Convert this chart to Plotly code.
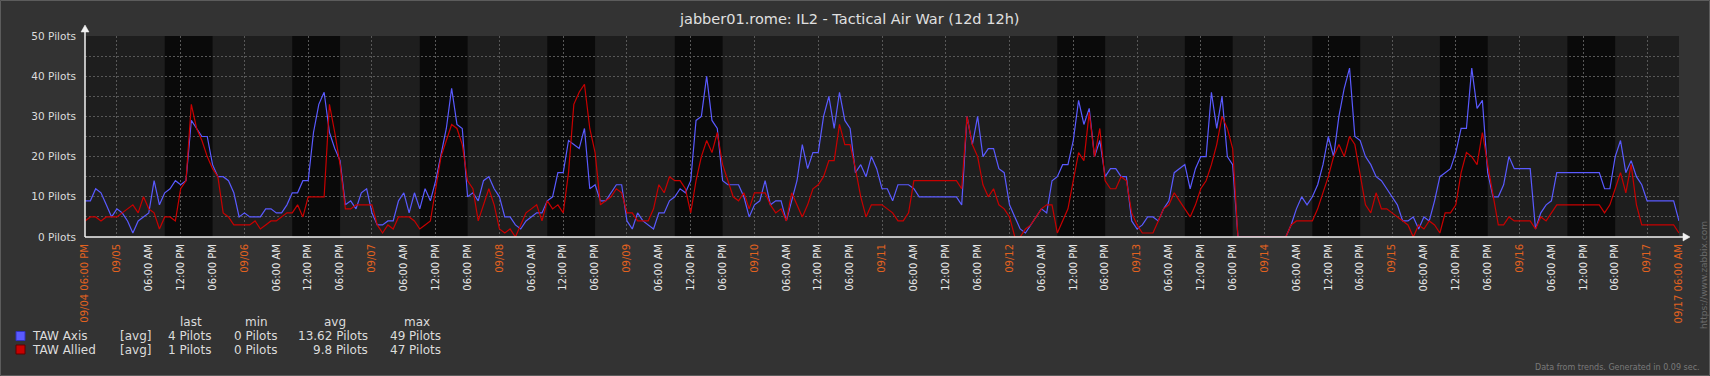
import pandas as pd
import plotly.graph_objects as go

# ---------------- data (hourly trend averages, from 09/04 06:00 PM) ----------------
START = "2016-09-04 18:00"

axis_pilots = [
    9, 9, 12, 11, 8, 5, 7, 6, 4, 1, 4, 5, 6, 14, 8, 11, 12, 14, 13, 14,
    29, 27, 25, 25, 18, 15, 15, 14, 11, 5, 6, 5, 5, 5, 7, 7, 6, 6, 8, 11,
    11, 14, 14, 26, 33, 36, 26, 22, 19, 8, 9, 7, 11, 12, 6, 3, 3, 4, 4, 9,
    11,
    6, 11, 7, 12, 9, 14, 21, 27, 37, 28,
    27, 10, 11, 9, 14, 15, 12, 10, 5, 5,
    3, 2, 4, 5, 6, 6, 9, 10, 16, 16,
    24, 23, 22, 27, 12, 13, 9, 9, 11, 13,
    13, 4, 2, 6, 4, 3, 2, 6, 6, 9,
    10, 12, 11, 14, 29, 30, 40, 29, 27, 14,
    13, 13, 13, 10, 5, 8, 9, 14, 8, 9,
    9, 4, 9, 14, 23, 17, 21, 21, 30, 35,
    27, 36, 29, 27, 16, 18, 15, 20, 17, 12,
    12, 9, 13, 13, 13, 12, 10, 10, 10, 10,
    10, 10, 10, 10, 8, 30, 23, 30, 20, 22,
    22, 17, 16, 8, 5, 2, 1, 3, 5, 7,
    6, 14, 15, 18, 18, 24, 34, 28, 32, 20,
    24, 15, 17, 17, 15, 15, 4, 2, 3, 5,
    5, 4, 7, 9, 16, 17, 18, 12, 17, 20,
    20, 36, 27, 35, 20, 18, 0, 0, 0, 0,
    0, 0, 0, 0, 0, 0, 3, 7, 10, 8,
    10, 13, 18, 25, 20, 30, 37, 42, 25, 24,
    20, 18, 15, 14, 12, 10, 8, 4, 4, 5,
    2, 5, 4, 9, 15, 16, 17, 21, 27, 27,
    42, 32, 34, 16, 10, 10, 13, 20, 17, 17,
    17, 17, 2, 6, 8, 9, 16, 16, 16, 16,
    16, 16, 16, 16, 16, 12, 12, 20, 24, 16,
    19, 15, 13, 9, 9, 9, 9, 9, 9, 4,
]

allied_pilots = [
    4, 5, 5, 4, 5, 5, 5, 6, 7, 8, 6, 10, 7, 6, 2, 5, 5, 4, 12, 14,
    33, 27, 24, 20, 17, 15, 6, 5, 3, 3, 3, 3, 4, 2, 3, 4, 4, 5, 6, 6,
    8, 5, 10, 10, 10, 10, 33, 26, 18, 7, 7, 8, 8, 8, 8, 3, 1, 3, 2, 5,
    5,
    5, 4, 2, 3, 4, 12, 20, 24, 28, 27,
    23, 14, 12, 4, 8, 12, 8, 2, 1, 2,
    0, 3, 6, 7, 8, 4, 9, 7, 8, 6,
    16, 33, 36, 38, 27, 21, 8, 9, 10, 12,
    11, 6, 6, 4, 4, 4, 7, 13, 11, 15,
    14, 14, 12, 6, 14, 20, 24, 21, 26, 18,
    14, 10, 9, 11, 7, 11, 11, 11, 8, 6,
    7, 4, 11, 8, 5, 8, 12, 13, 15, 19,
    19, 28, 23, 23, 17, 10, 5, 8, 8, 8,
    7, 6, 4, 4, 6, 14, 14, 14, 14, 14,
    14, 14, 14, 14, 12, 30, 23, 20, 13, 10,
    12, 8, 7, 5, 0, 0, 2, 3, 5, 7,
    8, 8, 1, 4, 7, 14, 21, 19, 31, 20,
    27, 14, 12, 12, 15, 14, 6, 3, 1, 1,
    1, 4, 7, 8, 11, 9, 7, 5, 8, 12,
    14, 18, 23, 30, 27, 22, 0, 0, 0, 0,
    0, 0, 0, 0, 0, 0, 3, 4, 4, 4,
    4, 7, 11, 15, 20, 23, 20, 25, 23, 15,
    8, 6, 11, 7, 7, 6, 5, 4, 3, 0,
    3, 2, 4, 3, 1, 6, 6, 8, 16, 21,
    20, 18, 26, 18, 10, 3, 3, 5, 4, 4,
    4, 4, 2, 5, 4, 6, 8, 8, 8, 8,
    8, 8, 8, 8, 8, 6, 8, 12, 16, 11,
    18, 8, 3, 3, 3, 3, 3, 3, 3, 1,
]

# working days (shaded 09:00 - 18:00)
work_days = ["2016-09-05", "2016-09-06", "2016-09-07", "2016-09-08", "2016-09-09",
             "2016-09-12", "2016-09-13", "2016-09-14", "2016-09-15", "2016-09-16"]

# tick labels
date_tick_days = ["09/05", "09/06", "09/07", "09/08", "09/09", "09/10", "09/11",
                  "09/12", "09/13", "09/14", "09/15", "09/16", "09/17"]
first_label = "09/04 06:00 PM"
last_label = "09/17 06:00 AM"
time_labels = ["06:00 AM", "12:00 PM", "06:00 PM"]
y_ticks = [0, 10, 20, 30, 40, 50]
y_tick_text = ["0 Pilots", "10 Pilots", "20 Pilots", "30 Pilots", "40 Pilots", "50 Pilots"]

# legend table
series_names = ["TAW Axis", "TAW Allied"]
series_funcs = ["[avg]", "[avg]"]
series_colors = ["#5a5aff", "#c80000"]
stat_headers = ["last", "min", "avg", "max"]
stat_values = [
    ["4 Pilots", "0 Pilots", "13.62 Pilots", "49 Pilots"],
    ["1 Pilots", "0 Pilots", "9.8 Pilots", "47 Pilots"],
]

TITLE = "jabber01.rome: IL2 - Tactical Air War (12d 12h)"
FOOTER = "Data from trends. Generated in 0.09 sec."
WATERMARK = "https://www.zabbix.com"

# ---------------- geometry helpers ----------------
FW, FH = 1710, 376
L, R, T, B = 85, 1679, 36, 237
PW, PH = R - L, B - T


def px(x):
    return (x - L) / PW


def py(y):
    return (B - y) / PH


FONT = "DejaVu Sans"
TXT = "#dcdcdc"
ORANGE = "#e2621f"
GRID = "#585858"

times = pd.date_range(START, periods=len(axis_pilots), freq="h")
t0, t1 = times[0], times[-1]

fig = go.Figure()
fig.add_trace(go.Scatter(x=times, y=axis_pilots, mode="lines", name=series_names[0],
                         line=dict(color=series_colors[0], width=1.2), showlegend=False))
fig.add_trace(go.Scatter(x=times, y=allied_pilots, mode="lines", name=series_names[1],
                         line=dict(color=series_colors[1], width=1.2), showlegend=False))

# tick positions
day0 = pd.Timestamp("2016-09-05")
date_vals = [t0] + [day0 + pd.Timedelta(days=i) for i in range(len(date_tick_days))] + [t1]
date_text = [first_label] + date_tick_days + [last_label]
time_vals, time_text = [], []
for i in range(12):
    for j, lab in enumerate(time_labels):
        t = day0 + pd.Timedelta(days=i, hours=6 * (j + 1))
        if t0 < t < t1:
            time_vals.append(t)
            time_text.append(lab)
grid_vals = [t for t in pd.date_range(day0, t1, freq="12h")]

xr = [t0 - pd.Timedelta(seconds=30), t1 + pd.Timedelta(seconds=30)]
tickfont = dict(family=FONT, size=10)

fig.update_layout(
    width=FW, height=FH,
    margin=dict(l=L, r=FW - R, t=T, b=FH - B, pad=0),
    paper_bgcolor="#333333", plot_bgcolor="#1e1e1e",
    font=dict(family=FONT, color=TXT),
    xaxis=dict(range=xr, tickmode="array", tickvals=time_vals, ticktext=time_text,
               tickangle=-90, tickfont=dict(color="#e8e8e8", **tickfont),
               showgrid=False, zeroline=False, showline=False, ticks="", ticklabelstandoff=4,
               automargin=False),
    xaxis2=dict(range=xr, overlaying="x", side="bottom", tickmode="array",
                tickvals=date_vals, ticktext=date_text, tickangle=-90,
                tickfont=dict(color=ORANGE, **tickfont), showgrid=False,
                zeroline=False, showline=False, ticks="", ticklabelstandoff=4,
                automargin=False),
    xaxis3=dict(range=xr, overlaying="x", side="bottom", tickmode="array",
                tickvals=grid_vals, showticklabels=False, showgrid=True,
                gridcolor=GRID, griddash="2px,2px", gridwidth=1, zeroline=False,
                showline=False, ticks=""),
    yaxis=dict(range=[0, 50], tickmode="array", tickvals=y_ticks, ticktext=y_tick_text,
               tickfont=dict(family=FONT, size=10.5, color=TXT), showgrid=True,
               gridcolor=GRID, griddash="2px,2px", zeroline=False, showline=False,
               ticks="", ticklabelstandoff=8, automargin=False,
               minor=dict(dtick=5, tick0=0, showgrid=True, gridcolor=GRID,
                          griddash="2px,2px", ticks="")),
)

# invisible traces to activate overlay axes
fig.add_trace(go.Scatter(x=[t0], y=[None], xaxis="x2", showlegend=False, hoverinfo="skip"))
fig.add_trace(go.Scatter(x=[t0], y=[None], xaxis="x3", showlegend=False, hoverinfo="skip"))

shapes = []
# working-hours shading
for d in work_days:
    ds = pd.Timestamp(d)
    shapes.append(dict(type="rect", xref="x", yref="paper",
                       x0=ds + pd.Timedelta(hours=9), x1=ds + pd.Timedelta(hours=18),
                       y0=0, y1=1, fillcolor="#0a0a0a", line=dict(width=0), layer="below"))
# axes with arrows
AX = "#f2f2f2"
shapes.append(dict(type="line", xref="paper", yref="paper", x0=0, x1=0, y0=0, y1=py(30),
                   line=dict(color=AX, width=1.5)))
shapes.append(dict(type="path", xref="paper", yref="paper",
                   path=f"M {px(81)} {py(32)} L {px(89)} {py(32)} L {px(85)} {py(25)} Z",
                   fillcolor=AX, line=dict(color=AX, width=0.5)))
shapes.append(dict(type="line", xref="paper", yref="paper", x0=0, x1=px(1685), y0=0, y1=0,
                   line=dict(color=AX, width=1.5)))
shapes.append(dict(type="path", xref="paper", yref="paper",
                   path=f"M {px(1683)} {py(233)} L {px(1683)} {py(241)} L {px(1690)} {py(237)} Z",
                   fillcolor=AX, line=dict(color=AX, width=0.5)))
# outer border
shapes.append(dict(type="rect", xref="paper", yref="paper",
                   x0=px(0.5), x1=px(FW - 0.5), y0=py(FH - 0.5), y1=py(0.5),
                   line=dict(color="#5c5c5c", width=1), fillcolor="rgba(0,0,0,0)"))
# legend colour boxes
row_y = [336, 349.5]
for i, c in enumerate(series_colors):
    border = "#3030c0" if i == 0 else "#600000"
    shapes.append(dict(type="rect", xref="paper", yref="paper",
                       x0=px(16), x1=px(25), y0=py(row_y[i] + 4.5), y1=py(row_y[i] - 4.5),
                       fillcolor=c, line=dict(color=border, width=1)))
fig.update_layout(shapes=shapes)

ann = []
ann.append(dict(text=TITLE, xref="paper", yref="paper", x=px(849), y=py(18.5),
                xanchor="center", yanchor="middle", showarrow=False,
                font=dict(family=FONT, size=14.5, color="#e0e0e0")))
lf = dict(family=FONT, size=12, color=TXT)
header_x = [191, 256, 335, 417]
value_x = [213, 279, 370, 443]
for h, x in zip(stat_headers, header_x):
    ann.append(dict(text=h, xref="paper", yref="paper", x=px(x), y=py(322),
                    xanchor="center", yanchor="middle", showarrow=False, font=lf))
for i in range(len(series_names)):
    ann.append(dict(text=series_names[i], xref="paper", yref="paper", x=px(30), y=py(row_y[i]),
                    xanchor="left", yanchor="middle", showarrow=False, font=lf))
    ann.append(dict(text=series_funcs[i], xref="paper", yref="paper", x=px(118), y=py(row_y[i]),
                    xanchor="left", yanchor="middle", showarrow=False, font=lf))
    for v, x in zip(stat_values[i], value_x):
        ann.append(dict(text=v, xref="paper", yref="paper", x=px(x), y=py(row_y[i]),
                        xanchor="right", yanchor="middle", showarrow=False, font=lf))
ann.append(dict(text=FOOTER, xref="paper", yref="paper", x=px(1702), y=py(367),
                xanchor="right", yanchor="middle", showarrow=False,
                font=dict(family=FONT, size=8, color="#7a7a7a")))
ann.append(dict(text=WATERMARK, xref="paper", yref="paper", x=px(1704), y=py(275),
                xanchor="center", yanchor="middle", showarrow=False, textangle=-90,
                font=dict(family=FONT, size=9, color="#6a6a6a")))
fig.update_layout(annotations=ann)

fig.write_html(
    "out.html",
    config={"displayModeBar": False},
    post_script="document.body.style.margin='0';document.body.style.background='#333333';",
)
